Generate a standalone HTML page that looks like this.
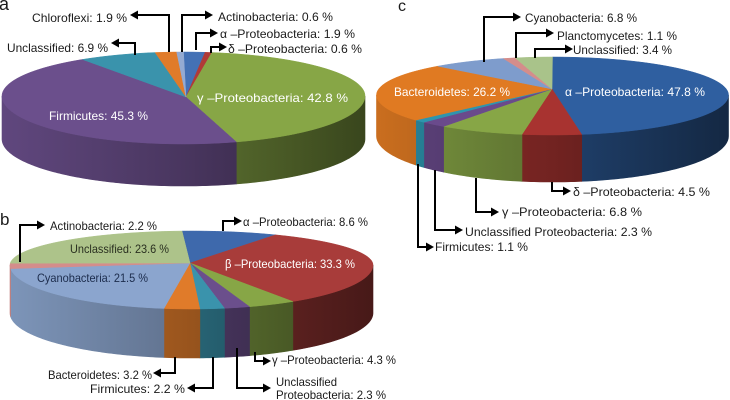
<!DOCTYPE html>
<html><head><meta charset="utf-8">
<style>
html,body{margin:0;padding:0;background:#fff;}
svg{display:block;}
text{font-family:"Liberation Sans",Arial,sans-serif;font-size:12px;fill:#1a1a1a;}
.w{fill:#fff;}
.ar{fill:none;stroke:#000;stroke-width:2;}
.hd{fill:#000;stroke:none;}
</style></head>
<body>
<svg id="s" width="730" height="400" viewBox="0 0 730 400" xmlns="http://www.w3.org/2000/svg">
<defs id="defs"></defs>
<g id="pies"></g>
<g id="arrows">
<!-- a -->
<polyline class="ar" points="169,52 169,15 136,15"/><polygon class="hd" points="130,15 138,10.5 138,19.5"/>
<polyline class="ar" points="182,52 182,15 206,15"/><polygon class="hd" points="213,15 205,10.5 205,19.5"/>
<polyline class="ar" points="196,50 196,33 211,33"/><polygon class="hd" points="218,33 210,28.5 210,37.5"/>
<polyline class="ar" points="211,53 211,47 220,47"/><polygon class="hd" points="227,47 219,42.5 219,51.5"/>
<polyline class="ar" points="135,55 135,43 118,43"/><polygon class="hd" points="111,43 119,38.5 119,47.5"/>
<!-- b -->
<polyline class="ar" points="20,262 20,225 38,225"/><polygon class="hd" points="45,225 37,220.5 37,229.5"/>
<polyline class="ar" points="223,231 223,221 235,221"/><polygon class="hd" points="242,221 234,216.5 234,225.5"/>
<polyline class="ar" points="255,352 255,361 264,361"/><polygon class="hd" points="271,361 263,356.5 263,365.5"/>
<polyline class="ar" points="237,348 237,388 264,388"/><polygon class="hd" points="271,388 263,383.5 263,392.5"/>
<polyline class="ar" points="175,357 175,373 160,373"/><polygon class="hd" points="153,373 161,368.5 161,377.5"/>
<polyline class="ar" points="213,357 213,388 194,388"/><polygon class="hd" points="187,388 195,383.5 195,392.5"/>
<!-- c -->
<polyline class="ar" points="484,62 484,17 514,17"/><polygon class="hd" points="521,17 513,12.5 513,21.5"/>
<polyline class="ar" points="516,58 516,33 547,33"/><polygon class="hd" points="554,33 546,28.5 546,37.5"/>
<polyline class="ar" points="535,58 535,49 566,49"/><polygon class="hd" points="573,49 565,44.5 565,53.5"/>
<polyline class="ar" points="552,182 552,191 564,191"/><polygon class="hd" points="571,191 563,186.5 563,195.5"/>
<polyline class="ar" points="476,178 476,212 492,212"/><polygon class="hd" points="499,212 491,207.5 491,216.5"/>
<polyline class="ar" points="435,170 435,230 456,230"/><polygon class="hd" points="463,230 455,225.5 455,234.5"/>
<polyline class="ar" points="418,164 418,247 427,247"/><polygon class="hd" points="434,247 426,242.5 426,251.5"/>
</g>
<g id="labels">
<!-- a -->
<text x="-1" y="10" style="font-size:18px">a</text>
<text x="32" y="22" textLength="95" lengthAdjust="spacingAndGlyphs">Chloroflexi: 1.9 %</text>
<text x="218" y="21" textLength="115" lengthAdjust="spacingAndGlyphs">Actinobacteria: 0.6 %</text>
<text x="220" y="38" textLength="135" lengthAdjust="spacingAndGlyphs">α –Proteobacteria: 1.9 %</text>
<text x="228" y="53" textLength="134" lengthAdjust="spacingAndGlyphs">δ –Proteobacteria: 0.6 %</text>
<text x="7" y="52" textLength="101" lengthAdjust="spacingAndGlyphs">Unclassified: 6.9 %</text>
<text class="w" x="197" y="102" textLength="151" lengthAdjust="spacingAndGlyphs">γ –Proteobacteria: 42.8  %</text>
<text class="w" x="49" y="120" textLength="99" lengthAdjust="spacingAndGlyphs">Firmicutes: 45.3 %</text>
<!-- b -->
<text x="0" y="225" style="font-size:17px">b</text>
<text x="50" y="230" textLength="107" lengthAdjust="spacingAndGlyphs">Actinobacteria: 2.2 %</text>
<text x="70" y="253" textLength="99" lengthAdjust="spacingAndGlyphs" style="fill:#2a3020">Unclassified: 23.6 %</text>
<text x="37" y="282" textLength="111" lengthAdjust="spacingAndGlyphs" style="fill:#1c2c4c">Cyanobacteria: 21.5 %</text>
<text x="243" y="226" textLength="125" lengthAdjust="spacingAndGlyphs">α –Proteobacteria: 8.6 %</text>
<text class="w" x="225" y="268" textLength="130" lengthAdjust="spacingAndGlyphs">β –Proteobacteria: 33.3 %</text>
<text x="272" y="364" textLength="124" lengthAdjust="spacingAndGlyphs">γ –Proteobacteria: 4.3 %</text>
<text x="276" y="386" textLength="61" lengthAdjust="spacingAndGlyphs">Unclassified</text>
<text x="276" y="399" textLength="110" lengthAdjust="spacingAndGlyphs">Proteobacteria: 2.3  %</text>
<text x="48" y="379" textLength="104" lengthAdjust="spacingAndGlyphs">Bacteroidetes: 3.2 %</text>
<text x="90" y="393" textLength="95" lengthAdjust="spacingAndGlyphs">Firmicutes: 2.2 %</text>
<!-- c -->
<text x="398" y="11" style="font-size:16px">c</text>
<text x="525" y="22" textLength="112" lengthAdjust="spacingAndGlyphs">Cyanobacteria: 6.8 %</text>
<text x="557" y="40" textLength="120" lengthAdjust="spacingAndGlyphs">Planctomycetes: 1.1 %</text>
<text x="573" y="54" textLength="99" lengthAdjust="spacingAndGlyphs">Unclassified: 3.4 %</text>
<text class="w" x="394" y="96" textLength="116" lengthAdjust="spacingAndGlyphs">Bacteroidetes: 26.2 %</text>
<text class="w" x="565" y="96" textLength="140" lengthAdjust="spacingAndGlyphs">α –Proteobacteria: 47.8 %</text>
<text x="573" y="196" textLength="137" lengthAdjust="spacingAndGlyphs">δ –Proteobacteria: 4.5 %</text>
<text x="502" y="216" textLength="140" lengthAdjust="spacingAndGlyphs">γ –Proteobacteria: 6.8  %</text>
<text x="465" y="236" textLength="187" lengthAdjust="spacingAndGlyphs">Unclassified Proteobacteria: 2.3  %</text>
<text x="435" y="251" textLength="93" lengthAdjust="spacingAndGlyphs">Firmicutes: 1.1 %</text>
</g>
</svg>
<script>
(function(){
var NS="http://www.w3.org/2000/svg";
var defs=document.getElementById("defs"), pies=document.getElementById("pies");
var gid=0;
function shade(hex,f){
  var n=parseInt(hex.slice(1),16);
  var r=Math.round(((n>>16)&255)*f),g=Math.round(((n>>8)&255)*f),b=Math.round((n&255)*f);
  r=Math.min(255,r);g=Math.min(255,g);b=Math.min(255,b);
  return "rgb("+r+","+g+","+b+")";
}
function el(tag,attrs,parent){var e=document.createElementNS(NS,tag);for(var k in attrs)e.setAttribute(k,attrs[k]);parent.appendChild(e);return e;}
function pie(o){
  var D=Math.PI/180;
  var total=0;o.slices.forEach(function(s){total+=s[0];});
  var warp=function(t){return (t>90&&t<270)?t+o.k*Math.sin(2*t*D):t;};
  var top=function(t){var r=t*D,c=Math.cos(r);return [o.cx+o.rx*Math.sin(r),o.cy-(c>=0?o.ryB:o.ryF)*c];};
  var bot=function(t){var r=t*D,c=Math.cos(r);return [o.cx+o.rx*Math.sin(r),o.bcy-(c>=0?o.ryB:o.bryF)*c];};
  var acc=0,arr=[];
  o.slices.forEach(function(s){
    var a0=o.rot+360*acc/total; acc+=s[0]; var a1=o.rot+360*acc/total;
    arr.push([warp(a0),warp(a1),s[1]]);
  });
  var g=el("g",{},pies);
  // sides
  arr.forEach(function(a){
    var s=Math.max(a[0],90),e=Math.min(a[1],270);
    if(e<=s)return;
    var id="gr"+(gid++);
    var lg=el("linearGradient",{id:id,gradientUnits:"userSpaceOnUse",x1:o.cx-o.rx,y1:0,x2:o.cx+o.rx,y2:0},defs);
    el("stop",{offset:"0","stop-color":shade(a[2],0.9)},lg);
    el("stop",{offset:"0.5","stop-color":shade(a[2],0.68)},lg);
    el("stop",{offset:"1","stop-color":shade(a[2],0.42)},lg);
    var pts=[],t;
    for(t=s;t<e;t+=1)pts.push(top(t));pts.push(top(e));
    for(t=e;t>s;t-=1)pts.push(bot(t));pts.push(bot(s));
    el("path",{d:"M"+pts.map(function(p){return p[0].toFixed(2)+","+p[1].toFixed(2);}).join("L")+"Z",fill:"url(#"+id+")",stroke:"url(#"+id+")","stroke-width":"0.6"},g);
  });
  // tops
  arr.forEach(function(a){
    var pts=[[o.ax,o.ay]],t;
    for(t=a[0];t<a[1];t+=1)pts.push(top(t));pts.push(top(a[1]));
    el("path",{d:"M"+pts.map(function(p){return p[0].toFixed(2)+","+p[1].toFixed(2);}).join("L")+"Z",fill:a[2],stroke:a[2],"stroke-width":"0.5"},g);
  });
}
var BL="#4471B5",RD="#B03A37",GN="#87A646",PU="#6B4F8C",TE="#3A93AC",OR="#E07B2A",LB="#8BA5CE",PK="#D48D8B",LG="#ADC38A";
pie({cx:183.5,rx:181.5,cy:96,ryB:44,ryF:48,bcy:139,bryF:47,ax:186,ay:97,rot:0,k:0,
  slices:[[1.9,BL],[0.6,RD],[42.8,GN],[45.3,PU],[6.9,TE],[1.9,OR],[0.6,"#94AAD2"]]});
pie({cx:191.5,rx:181.5,cy:265,ryB:34,ryF:44,bcy:313,bryF:45,ax:190,ay:263,rot:-3,k:0,
  slices:[[8.6,"#3E69AC"],[33.3,"#A83C3A"],[4.3,GN],[2.3,PU],[2.2,TE],[3.2,OR],[21.5,LB],[2.2,PK],[23.6,LG]]});
pie({cx:552.5,rx:176,cy:95,ryB:38,ryF:40,bcy:136,bryF:46,ax:552,ay:89,rot:0,k:6,
  slices:[[47.8,"#2F5FA0"],[4.5,"#A83330"],[6.8,GN],[2.3,"#6A4A8C"],[1.1,"#2E95AE"],[26.2,"#E07A22"],[6.8,"#7E9CCC"],[1.1,PK],[3.4,"#A9C38A"]]});
})();
</script>
</body></html>
